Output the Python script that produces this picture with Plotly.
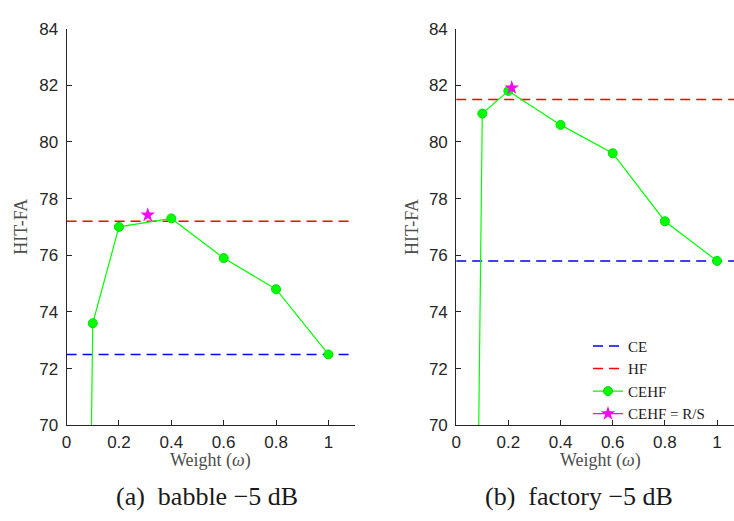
import plotly.graph_objects as go
from plotly.subplots import make_subplots

# Weight values and HIT-FA scores for the combined CE/HF system
weights = [0.0, 0.1, 0.2, 0.4, 0.6, 0.8, 1.0]
babble_cehf = [0.0, 73.6, 77.0, 77.3, 75.9, 74.8, 72.5]
factory_cehf = [0.0, 81.0, 81.8, 80.6, 79.6, 77.2, 75.8]

# Baselines
babble_ce, babble_hf = 72.5, 77.2
factory_ce, factory_hf = 75.8, 81.5

# R/S operating point
babble_rs_w, babble_rs = [0.31], [77.42]
factory_rs_w, factory_rs = [0.213], [81.91]

x_ticks = [0, 0.2, 0.4, 0.6, 0.8, 1]
x_tick_text = ["0", "0.2", "0.4", "0.6", "0.8", "1"]
y_ticks = [70, 72, 74, 76, 78, 80, 82, 84]

W, H = 734, 521
GREEN = "#00FF00"
MAGENTA = "#FF00FF"
SERIF = "Liberation Serif, Times New Roman, DejaVu Serif, serif"
SANS = "Liberation Sans, Arial, Helvetica, sans-serif"

fig = make_subplots(rows=1, cols=2)

panels = [
    (1, babble_cehf, babble_ce, babble_hf, babble_rs_w, babble_rs, 1.1, False),
    (2, factory_cehf, factory_ce, factory_hf, factory_rs_w, factory_rs, 1.065, True),
]

for col, cehf, ce, hf, rs_w, rs, xmax, legend in panels:
    fig.add_trace(go.Scatter(x=[0, xmax], y=[ce, ce], mode="lines", name="CE",
                             line=dict(color="#0000FF", width=1.5, dash="10px,6px"),
                             showlegend=legend), row=1, col=col)
    fig.add_trace(go.Scatter(x=[0, xmax], y=[hf, hf], mode="lines", name="HF",
                             line=dict(color="#FF0000", width=1.5, dash="10px,6px"),
                             showlegend=legend), row=1, col=col)
    fig.add_trace(go.Scatter(x=weights, y=cehf, mode="lines+markers", name="CEHF",
                             line=dict(color=GREEN, width=1.2),
                             marker=dict(symbol="circle", size=9, color=GREEN,
                                         line=dict(color="#00DD00", width=1)),
                             showlegend=legend), row=1, col=col)
    fig.add_trace(go.Scatter(x=rs_w, y=rs, mode="lines+markers", name="CEHF = R/S",
                             line=dict(color=MAGENTA, width=1.2),
                             marker=dict(symbol="star", size=11, color=MAGENTA),
                             showlegend=legend), row=1, col=col)

    fig.update_xaxes(row=1, col=col, range=[0, xmax], tickvals=x_ticks, ticktext=x_tick_text,
                     ticks="inside", ticklen=5, tickcolor="#262626", showline=True,
                     linecolor="#262626", linewidth=1, showgrid=False, zeroline=False,
                     ticklabelstandoff=1,
                     tickfont=dict(family=SANS, size=17, color="#262626"))
    fig.update_yaxes(row=1, col=col, range=[70, 84], tickvals=y_ticks,
                     ticks="inside", ticklen=5, tickcolor="#262626", showline=True,
                     linecolor="#262626", linewidth=1, showgrid=False, zeroline=False,
                     ticklabelstandoff=4,
                     tickfont=dict(family=SANS, size=17, color="#262626"))

y0, y1 = 1 - 432 / H, 1 - 20.3 / H
fig.update_layout(
    xaxis=dict(domain=[62 / W, 352 / W]),
    xaxis2=dict(domain=[454.3 / W, 1.0]),
    yaxis=dict(domain=[y0, y1]),
    yaxis2=dict(domain=[y0, y1]),
)

annotations = [
    dict(text="HIT-FA", x=16 / W, y=1 - 226 / H, textangle=-90),
    dict(text="HIT-FA", x=410 / W, y=1 - 226 / H, textangle=-90),
    dict(text="Weight (<i>ω</i>)", x=207 / W, y=1 - 469 / H),
    dict(text="Weight (<i>ω</i>)", x=600 / W, y=1 - 469 / H),
]
for a in annotations:
    fig.add_annotation(xref="paper", yref="paper", showarrow=False,
                       xanchor="center", yanchor="middle",
                       font=dict(family=SERIF, size=18, color="#4d4d4d"), **a)

for text, xc in [("(a)  babble −5 dB", 203), ("(b)  factory −5 dB", 578)]:
    fig.add_annotation(xref="paper", yref="paper", showarrow=False, text=text,
                       x=xc / W, y=1 - 506 / H, xanchor="center", yanchor="middle",
                       font=dict(family=SERIF, size=26, color="#1a1a1a"))

fig.update_layout(
    width=W, height=H,
    margin=dict(l=0, r=0, t=0, b=0),
    paper_bgcolor="white", plot_bgcolor="white",
    legend=dict(x=587 / W, y=1 - 333 / H, xanchor="left", yanchor="top",
                bgcolor="rgba(0,0,0,0)", tracegroupgap=0,
                font=dict(family=SERIF, size=15, color="#1a1a1a"),
                itemwidth=30),
)

fig.write_html("out.html")
